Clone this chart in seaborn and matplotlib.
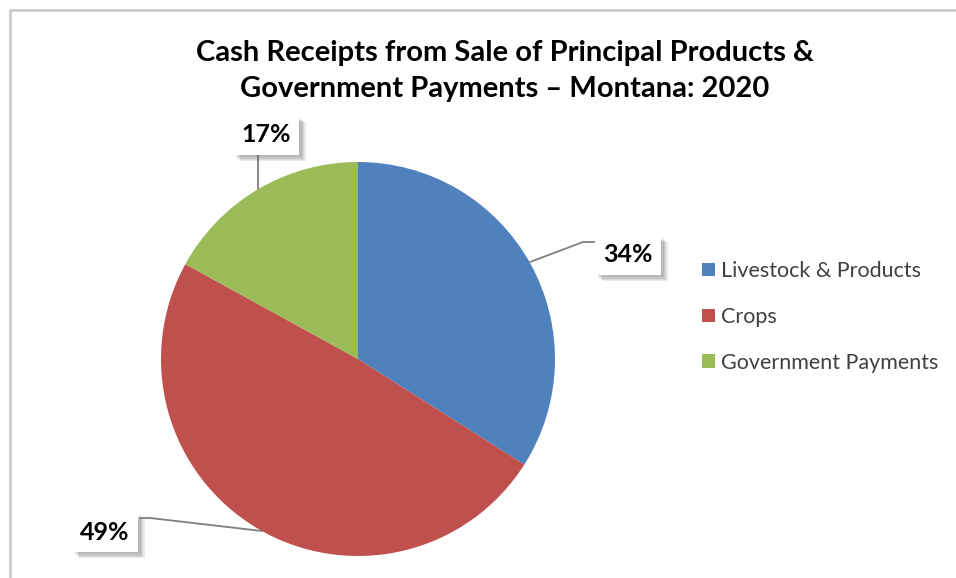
import matplotlib
matplotlib.use('Agg')
import matplotlib.pyplot as plt
import matplotlib.patheffects as pe
from matplotlib.lines import Line2D
import seaborn as sns

# chart data
categories = ['Livestock & Products', 'Crops', 'Government Payments']
shares = [34, 49, 17]
colors = ['#4F81BD', '#C0504D', '#9BBB59']

sns.set_theme(style='white')
plt.rcParams['font.family'] = ['Lato', 'DejaVu Sans']

W, H = 956, 578
fig = plt.figure(figsize=(W / 100, H / 100), dpi=100)
fig.patch.set_facecolor('white')

# pie centre (358, 359) px, radius 197 px
cx, cy, r = 358, 359, 197
ax = fig.add_axes([(cx - r) / W, (H - cy - r) / H, 2 * r / W, 2 * r / H])
wedges, _ = ax.pie(shares, colors=colors, startangle=90, counterclock=False,
                   radius=1, wedgeprops=dict(linewidth=0))
ax.set_xlim(-1, 1)
ax.set_ylim(-1, 1)
ax.axis('off')


def px(x, y):
    return ((x - cx) / r, (cy - y) / r)


# data labels with leader lines
label_pos = [px(628, 255), px(105, 532), px(266, 135)]
leaders = [
    [px(530, 262), px(583, 242), px(597, 242)],
    [px(262, 531), px(150, 518), px(140, 518)],
    [px(258, 189), px(258, 150)],
]
shadow = [pe.withSimplePatchShadow(offset=(d, -d), shadow_rgbFace='#555555', alpha=0.12)
          for d in (5, 4, 3, 2)]
for v, pos, line in zip(shares, label_pos, leaders):
    xs, ys = zip(*line)
    ax.add_line(Line2D(xs, ys, color='#7f7f7f', lw=1.3, clip_on=False))
    t = ax.text(pos[0], pos[1], f'{v}%', ha='center', va='center',
                fontsize=18, fontweight='bold', color='black', clip_on=False,
                bbox=dict(boxstyle='square,pad=0.32', fc='white', ec='none'))
    t.get_bbox_patch().set_path_effects(shadow + [pe.Normal()])

# title
fig.text(505 / W, 1 - 71 / H,
         'Cash Receipts from Sale of Principal Products &\nGovernment Payments \u2013 Montana: 2020',
         ha='center', va='center', fontsize=21, fontweight='bold', linespacing=1.5,
         color='black')

# legend
fig.legend(wedges, categories, loc='center left',
           bbox_to_anchor=(691 / W, 1 - 317 / H), frameon=False,
           fontsize=15.5, labelcolor='#404040', handlelength=0.6, handleheight=0.6,
           handletextpad=0.3, labelspacing=1.2, borderpad=0)

# chart frame (only top and left edges visible)
fig.add_artist(Line2D([9.5 / W, 9.5 / W], [0, 1 - 9.5 / H], color='#c8c8c8', lw=1.8))
fig.add_artist(Line2D([9.5 / W, 1], [1 - 9.5 / H, 1 - 9.5 / H], color='#c8c8c8', lw=1.8))

fig.savefig('out.png', dpi=100, facecolor='white')
